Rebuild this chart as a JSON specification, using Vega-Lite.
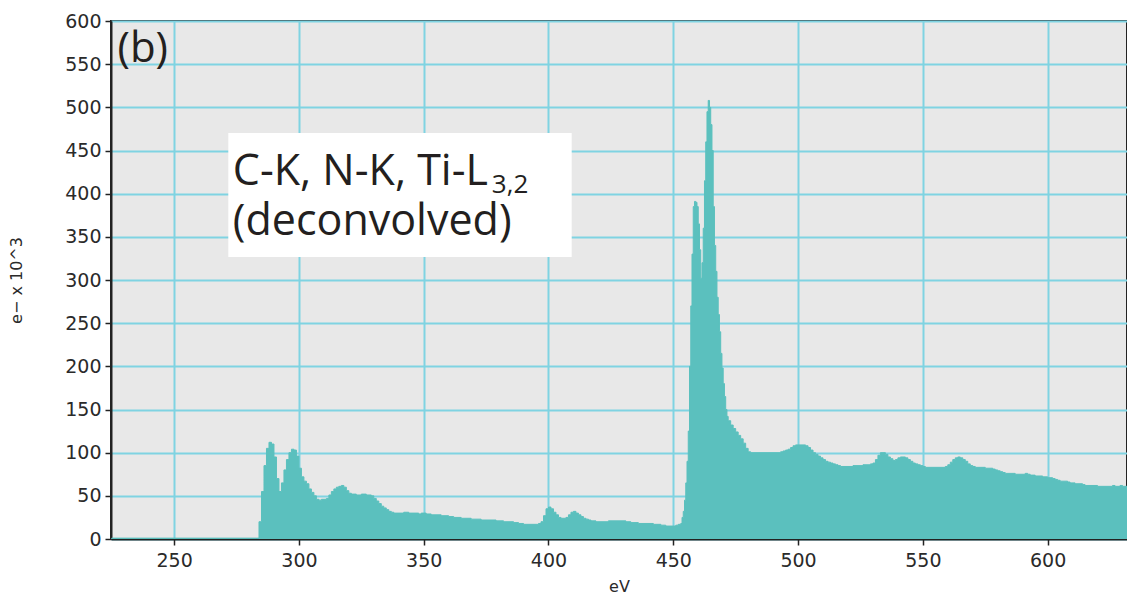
{
  "$schema": "https://vega.github.io/schema/vega-lite/v6.json",
  "width": 1016,
  "height": 518,
  "autosize": "none",
  "padding": {"left": 111, "top": 21, "right": 0, "bottom": 62},
  "background": "white",
  "config": {
    "view": {"fill": "#e8e8e8", "stroke": "#222", "strokeWidth": 2},
    "axis": {
      "labelFont": "DejaVu Sans",
      "labelFontSize": 19,
      "labelColor": "#2a2a2a",
      "titleFont": "DejaVu Sans",
      "titleFontSize": 16,
      "titleFontWeight": "normal",
      "titleColor": "#2a2a2a",
      "domainColor": "#222",
      "domainWidth": 2,
      "tickColor": "#222",
      "tickWidth": 1.5,
      "tickSize": 6,
      "gridColor": "#7fd3e2",
      "gridWidth": 2,
      "gridOpacity": 1
    }
  },
  "data": {"values": [
    {"e":225,"c":1},{"e":283,"c":1},{"e":284,"c":20},{"e":285,"c":55},{"e":286,"c":85},{"e":287,"c":105},{"e":288,"c":112},{"e":289,"c":110},{"e":290,"c":95},{"e":291,"c":70},{"e":292,"c":55},{"e":293,"c":65},{"e":294,"c":80},{"e":295,"c":92},{"e":296,"c":100},{"e":297,"c":104},{"e":298,"c":103},{"e":299,"c":96},{"e":300,"c":82},{"e":301,"c":72},{"e":302,"c":67},{"e":303,"c":64},{"e":304,"c":58},{"e":305,"c":54},{"e":306,"c":50},{"e":307,"c":46},{"e":308,"c":45},{"e":309,"c":46},{"e":311,"c":47},{"e":312,"c":51},{"e":313,"c":55},{"e":314,"c":58},{"e":315,"c":60},{"e":316,"c":61},{"e":317,"c":62},{"e":318,"c":60},{"e":319,"c":56},{"e":320,"c":53},{"e":321,"c":52},{"e":323,"c":51},{"e":325,"c":52},{"e":327,"c":51},{"e":329,"c":50},{"e":330,"c":47},{"e":331,"c":44},{"e":332,"c":41},{"e":333,"c":38},{"e":334,"c":36},{"e":335,"c":34},{"e":336,"c":32},{"e":337,"c":31},{"e":338,"c":30},{"e":342,"c":31},{"e":344,"c":30},{"e":348,"c":29},{"e":349,"c":30},{"e":351,"c":29},{"e":353,"c":28},{"e":357,"c":27},{"e":360,"c":26},{"e":362,"c":25},{"e":365,"c":24},{"e":369,"c":23},{"e":373,"c":22},{"e":379,"c":21},{"e":382,"c":20},{"e":386,"c":19},{"e":388,"c":18},{"e":390,"c":17},{"e":396,"c":18},{"e":397,"c":20},{"e":398,"c":27},{"e":399,"c":35},{"e":400,"c":37},{"e":401,"c":35},{"e":402,"c":31},{"e":403,"c":28},{"e":404,"c":25},{"e":405,"c":24},{"e":407,"c":25},{"e":408,"c":28},{"e":409,"c":31},{"e":410,"c":32},{"e":411,"c":30},{"e":412,"c":28},{"e":413,"c":26},{"e":414,"c":24},{"e":415,"c":23},{"e":416,"c":22},{"e":417,"c":21},{"e":419,"c":20},{"e":424,"c":21},{"e":431,"c":20},{"e":433,"c":19},{"e":436,"c":18},{"e":442,"c":17},{"e":445,"c":16},{"e":447,"c":15},{"e":451,"c":16},{"e":452,"c":17},
    {"e":453,"c":18},{"e":453.5,"c":25},{"e":454,"c":32},{"e":454.5,"c":45},{"e":455,"c":65},{"e":455.5,"c":90},{"e":456,"c":125},{"e":456.5,"c":200},{"e":457,"c":270},{"e":457.5,"c":330},{"e":458,"c":385},{"e":458.5,"c":391},{"e":459,"c":390},{"e":459.5,"c":385},{"e":460,"c":365},{"e":460.5,"c":335},{"e":461,"c":302},{"e":461.5,"c":320},{"e":462,"c":360},{"e":462.5,"c":415},{"e":463,"c":460},{"e":463.5,"c":495},{"e":464,"c":508},{"e":464.5,"c":500},{"e":465,"c":480},{"e":465.5,"c":450},{"e":466,"c":385},{"e":466.5,"c":340},{"e":467,"c":310},{"e":467.5,"c":280},{"e":468,"c":260},{"e":468.5,"c":240},{"e":469,"c":215},{"e":469.5,"c":198},{"e":470,"c":180},{"e":470.5,"c":165},{"e":471,"c":150},{"e":471.5,"c":142},{"e":472,"c":137},
    {"e":473,"c":132},{"e":474,"c":128},{"e":475,"c":124},{"e":476,"c":120},{"e":477,"c":116},{"e":478,"c":111},{"e":479,"c":105},{"e":480,"c":101},{"e":481,"c":100},{"e":493,"c":101},{"e":494,"c":102},{"e":495,"c":103},{"e":496,"c":104},{"e":497,"c":106},{"e":498,"c":108},{"e":499,"c":109},{"e":503,"c":108},{"e":504,"c":106},{"e":505,"c":103},{"e":506,"c":100},{"e":507,"c":98},{"e":508,"c":96},{"e":509,"c":94},{"e":510,"c":92},{"e":511,"c":90},{"e":512,"c":89},{"e":513,"c":88},{"e":514,"c":87},{"e":515,"c":86},{"e":516,"c":85},{"e":517,"c":84},{"e":522,"c":85},{"e":526,"c":86},{"e":529,"c":87},{"e":530,"c":88},{"e":531,"c":92},{"e":532,"c":97},{"e":533,"c":100},{"e":535,"c":98},{"e":536,"c":95},{"e":537,"c":93},{"e":538,"c":91},{"e":539,"c":92},{"e":540,"c":94},{"e":541,"c":95},{"e":543,"c":94},{"e":544,"c":92},{"e":545,"c":90},{"e":546,"c":88},{"e":547,"c":87},{"e":548,"c":86},{"e":549,"c":85},{"e":550,"c":84},{"e":551,"c":83},{"e":559,"c":84},{"e":560,"c":86},{"e":561,"c":89},{"e":562,"c":92},{"e":563,"c":94},{"e":564,"c":95},{"e":565,"c":94},{"e":566,"c":92},{"e":567,"c":90},{"e":568,"c":87},{"e":569,"c":85},{"e":570,"c":84},{"e":571,"c":83},{"e":575,"c":82},{"e":578,"c":81},{"e":579,"c":80},{"e":580,"c":79},{"e":581,"c":78},{"e":582,"c":77},{"e":583,"c":76},{"e":587,"c":75},{"e":591,"c":76},{"e":592,"c":75},{"e":593,"c":74},{"e":595,"c":73},{"e":598,"c":72},{"e":600,"c":71},{"e":602,"c":70},{"e":603,"c":69},{"e":604,"c":68},{"e":605,"c":67},{"e":608,"c":66},{"e":609,"c":65},{"e":611,"c":64},{"e":614,"c":63},{"e":615,"c":62},{"e":620,"c":61},{"e":626,"c":62},{"e":627,"c":61},{"e":629,"c":62},{"e":630,"c":61},{"e":633,"c":61}
  ]},
  "layer": [
    {
      "mark": {"type": "area", "interpolate": "step-after", "color": "#5bc0be", "stroke": "#5bc0be", "strokeWidth": 1, "strokeJoin": "miter", "clip": true},
      "encoding": {
        "x": {"field": "e", "type": "quantitative",
              "scale": {"domain": [224.7, 631.8], "nice": false, "zero": false},
              "axis": {"title": "eV", "values": [250,300,350,400,450,500,550,600], "labelPadding": 6, "titlePadding": 8}},
        "y": {"field": "c", "type": "quantitative",
              "scale": {"domain": [0, 600], "nice": false},
              "axis": {"title": "e\u2212 x 10^3", "values": [0,50,100,150,200,250,300,350,400,450,500,550,600], "labelPadding": 4, "titlePadding": 40}}
      }
    },
    {
      "data": {"values": [{}]},
      "mark": {"type": "rect", "color": "white"},
      "encoding": {
        "x": {"datum": 271.7, "type": "quantitative"},
        "x2": {"datum": 409.3},
        "y": {"datum": 470.3, "type": "quantitative"},
        "y2": {"datum": 326.6}
      }
    },
    {
      "data": {"values": [{}]},
      "mark": {"type": "text", "text": ["C-K, N-K, Ti-L", "(deconvolved)"], "lineHeight": 50, "align": "left", "baseline": "alphabetic", "font": "Open Sans", "fontSize": 43, "color": "#231f20"},
      "encoding": {"x": {"datum": 273.5, "type": "quantitative"}, "y": {"datum": 410, "type": "quantitative"}}
    },
    {
      "data": {"values": [{}]},
      "mark": {"type": "text", "text": "3,2", "align": "left", "baseline": "alphabetic", "font": "Open Sans", "fontSize": 26, "color": "#231f20"},
      "encoding": {"x": {"datum": 377.3, "type": "quantitative"}, "y": {"datum": 401, "type": "quantitative"}}
    },
    {
      "data": {"values": [{}]},
      "mark": {"type": "text", "text": "(b)", "align": "left", "baseline": "alphabetic", "font": "Open Sans", "fontSize": 42, "color": "#231f20"},
      "encoding": {"x": {"datum": 227.3, "type": "quantitative"}, "y": {"datum": 552.5, "type": "quantitative"}}
    }
  ]
}
